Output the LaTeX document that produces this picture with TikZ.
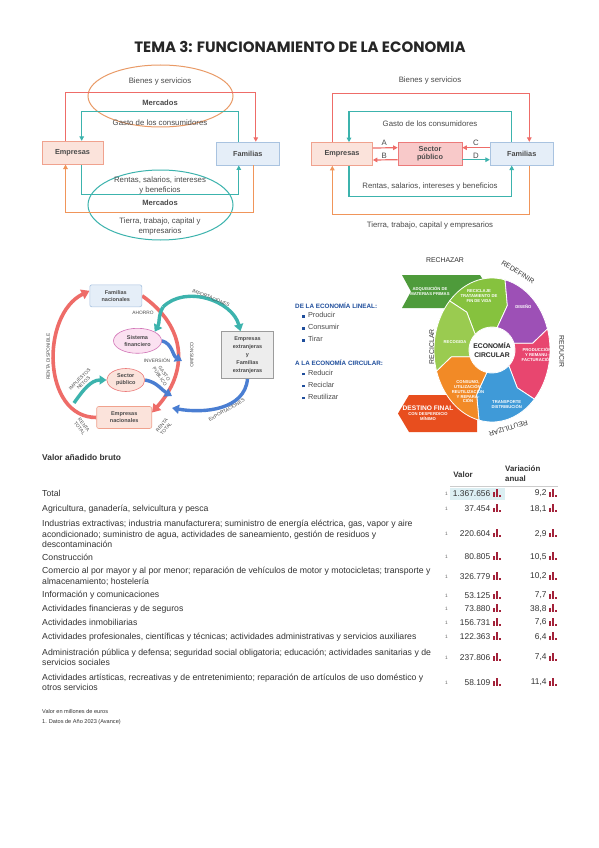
\documentclass[tikz,border=0pt]{standalone}
\usepackage{fontspec}
\setmainfont{Liberation Sans}
\newfontfamily\titlefont{Poppins}
\usetikzlibrary{positioning,arrows.meta,shapes.geometric,calc,backgrounds}

\definecolor{flowred}{HTML}{EE6C68}
\definecolor{flowteal}{HTML}{3CB3AD}
\definecolor{floworange}{HTML}{F0955A}
\definecolor{flowblue}{HTML}{4A7ED2}
\definecolor{mktorange}{HTML}{E99A66}
\definecolor{empfill}{HTML}{FBE3DB}
\definecolor{empline}{HTML}{F0A28E}
\definecolor{famfill}{HTML}{E5EEF8}
\definecolor{famline}{HTML}{A9C3E0}
\definecolor{spfill}{HTML}{F8C9C9}
\definecolor{spline}{HTML}{EC7A7A}
\definecolor{sffill}{HTML}{FBE1F1}
\definecolor{sfline}{HTML}{D173B6}
\definecolor{extfill}{HTML}{EDEDED}
\definecolor{extline}{HTML}{9C9C9C}
\definecolor{txtgray}{HTML}{4A4A4A}
\definecolor{econblue}{HTML}{1F4E9C}
\definecolor{segdark}{HTML}{4E9B3B}
\definecolor{seglime}{HTML}{86C23E}
\definecolor{segleaf}{HTML}{9ACB50}
\definecolor{segpurple}{HTML}{9D50B6}
\definecolor{segpink}{HTML}{E8466F}
\definecolor{segblue}{HTML}{3F9AD8}
\definecolor{segorange}{HTML}{F28A26}
\definecolor{segred}{HTML}{E84E1E}
\definecolor{barred}{HTML}{A3223A}
\definecolor{hlblue}{HTML}{DCEFF3}
\definecolor{tabgray}{HTML}{333333}

% one arrow-shaped piece of the circular economy wheel: colour, tail angle, head angle
\newcommand{\wheelseg}[3]{%
  \filldraw[fill=#1, draw=white, line width=0.8pt, line join=round]
    ({58*cos(#2)},{72*sin(#2)})
    arc[start angle=#2, end angle=#3, x radius=58, y radius=72]
    -- ({41*cos(#3-9)},{48*sin(#3-9)})
    -- ({23*cos(#3)},{23*sin(#3)})
    arc[start angle=#3, end angle=#2, radius=23]
    -- ({41*cos(#2-9)},{48*sin(#2-9)})
    -- cycle;}

\tikzset{
  flowbox/.style={
    draw, line width=0.6pt, minimum height=23pt,
    align=center, font=\fontsize{7.3}{8.3}\selectfont\bfseries, text=txtgray
  },
  empbox/.style={flowbox, fill=empfill, draw=empline, minimum width=61pt},
  fambox/.style={flowbox, fill=famfill, draw=famline, minimum width=63pt},
  spbox/.style={flowbox, fill=spfill, draw=spline, minimum width=64pt},
  mktring/.style={ellipse, minimum width=145pt, inner sep=0pt, line width=1pt},
  flowtext/.style={align=center, font=\fontsize{7.8}{9.8}\selectfont, text=txtgray, inner sep=1pt},
  flowbold/.style={flowtext, font=\fontsize{7.6}{9}\selectfont\bfseries},
  thinflow/.style={line width=1.2pt, -{Triangle[length=4.5pt,width=4.5pt]}},
  smallbox/.style={
    draw, line width=0.6pt, align=center, inner sep=1pt,
    font=\fontsize{5.5}{7}\selectfont\bfseries, text=txtgray
  },
  famnbox/.style={smallbox, rounded corners=2pt, fill=famfill, draw=famline,
    minimum width=52pt, minimum height=22pt},
  empnbox/.style={smallbox, rounded corners=2pt, fill=empfill, draw=empline,
    minimum width=55pt, minimum height=22pt},
  sfring/.style={smallbox, ellipse, fill=sffill, draw=sfline, inner sep=0pt,
    minimum width=48pt, minimum height=25pt},
  spring/.style={smallbox, ellipse, fill=empfill, draw=spline, inner sep=0pt,
    minimum width=38pt, minimum height=23pt},
  extbox/.style={smallbox, fill=extfill, draw=extline, font=\fontsize{5.5}{8}\selectfont\bfseries,
    minimum width=52pt, minimum height=47pt},
  ringflow/.style={line width=3.6pt, draw=flowred, -{Triangle[length=8pt,width=10pt]}},
  tealflow/.style={line width=3.4pt, draw=flowteal, -{Triangle[length=7pt,width=9pt]}},
  blueflow/.style={line width=3.4pt, draw=flowblue, -{Triangle[length=7pt,width=9pt]}},
  tinylbl/.style={font=\fontsize{4.8}{5.4}\selectfont, text=txtgray, align=center, inner sep=0pt},
  econhead/.style={font=\fontsize{6.3}{7}\selectfont\bfseries, text=econblue, inner sep=0pt},
  bulletitem/.style={font=\fontsize{7.3}{8}\selectfont, text=txtgray, inner xsep=0pt,
    inner ysep=2.5pt, text height=5.2pt, text depth=1.4pt},
  segtext/.style={align=center, text=white, font=\fontsize{4.2}{4.9}\selectfont\bfseries, inner sep=0pt},
  wheellbl/.style={font=\fontsize{6.9}{8}\selectfont, text=black!80, inner sep=0pt},
  rowtext/.style={align=left, font=\fontsize{8.7}{10.4}\selectfont, text=tabgray, inner sep=0pt},
  numtext/.style={font=\fontsize{8.4}{9}\selectfont, text=tabgray, inner sep=0pt},
  headtext/.style={align=left, font=\fontsize{7.9}{9.3}\selectfont\bfseries, text=tabgray, inner sep=0pt},
  notemark/.style={font=\fontsize{4.8}{5}\selectfont, text=black!60, inner sep=0pt},
  notetext/.style={font=\fontsize{5.6}{6}\selectfont, text=tabgray, inner sep=0pt},
  baricon/.pic={
    \fill[barred] (0,0) rectangle (2,-4.5);
    \fill[barred] (3.4,0) rectangle (5.4,-8);
    \fill[barred] (6.8,0) rectangle (8.8,-2.2);
  }
}

\begin{document}
\begin{tikzpicture}[x=1pt, y=-1pt]
  \useasboundingbox (0,0) rectangle (599,848);
  \begin{scope}[on background layer]
    \fill[white] (0,0) rectangle (599,848);
  \end{scope}

  \node[font=\titlefont\bfseries\fontsize{15}{16}\selectfont, text=black!85] (title) at (300,47)
    {TEMA 3: FUNCIONAMIENTO DE LA ECONOMIA};

  % flujo circular con mercados
  \node[empbox] (emp1) at (72.5,152.7) {Empresas};
  \node[fambox] (fam1) at (247.8,153.6) {Familias};
  \node[mktring, draw=mktorange, minimum height=62pt] (mk1) at (160.5,96) {};
  \node[mktring, draw=flowteal, minimum height=70pt] (mk2) at (160.5,205) {};
  \node[flowtext] (bs1) at (160,81) {Bienes y servicios};
  \node[flowbold] (mt1) at (160,103) {Mercados};
  \node[flowtext] (gc1) at (160,123) {Gasto de los consumidores};
  \node[flowtext] (rs1) at (160,185.5) {Rentas, salarios, intereses\\y beneficios};
  \node[flowbold] (mt2) at (160,203) {Mercados};
  \node[flowtext] (tt1) at (160,226.7) {Tierra, trabajo, capital y\\empresarios};

  \draw[thinflow, flowred] ([xshift=-7]emp1.north) -- ++(0,-48) -| ([xshift=8]fam1.north);
  \draw[thinflow, flowteal] ([xshift=-9]fam1.north) -- ++(0,-30.6) -| ([xshift=9.2]emp1.north);
  \draw[thinflow, flowteal] ([xshift=9.2]emp1.south) -- ++(0,30) -| ([xshift=-9]fam1.south);
  \draw[thinflow, floworange] ([xshift=6]fam1.south) -- ++(0,46.7) -| ([xshift=-7]emp1.south);

  % flujo circular con sector publico
  \node[empbox] (emp2) at (342,154) {Empresas};
  \node[spbox] (sp2) at (430,153.7) {Sector\\público};
  \node[fambox] (fam2) at (521.7,153.7) {Familias};
  \node[flowtext] (bs2) at (430,80.7) {Bienes y servicios};
  \node[flowtext] (gc2) at (430,123.3) {Gasto de los consumidores};
  \node[flowtext] (rs2) at (430,186.7) {Rentas, salarios, intereses y beneficios};
  \node[flowtext] (tt2) at (430,225) {Tierra, trabajo, capital y empresarios};

  \draw[thinflow, flowred] ([xshift=-9.7]emp2.north) -- ++(0,-49) -| ([xshift=7.6]fam2.north);
  \draw[thinflow, flowteal] ([xshift=-10]fam2.north) -- ++(0,-30.6) -| ([xshift=7]emp2.north);
  \draw[thinflow, flowred] ([yshift=6]emp2.east) -- ([yshift=6]sp2.west);
  \draw[thinflow, flowred] ([yshift=-6]sp2.west) -- ([yshift=-6]emp2.east);
  \draw[thinflow, flowred] ([yshift=6]fam2.west) -- ([yshift=6]sp2.east);
  \draw[thinflow, flowteal] ([yshift=-6]sp2.east) -- ([yshift=-6]fam2.west);
  \draw[thinflow, flowteal] ([xshift=7]emp2.south) -- ++(0,31) -| ([xshift=-10]fam2.south);
  \draw[thinflow, floworange] ([xshift=7.6]fam2.south) -- ++(0,49) -| ([xshift=-9.7]emp2.south);
  \node[flowtext] (la) at (384.3,143.3) {A};
  \node[flowtext] (lb) at (384.3,155.5) {B};
  \node[flowtext] (lc) at (476,143.3) {C};
  \node[flowtext] (ld) at (476,155.5) {D};

  % flujo de la renta
  \node[famnbox] (famn) at (115.8,295.8) {Familias\\nacionales};
  \node[sfring] (sisfin) at (137.5,340.8) {Sistema\\financiero};
  \node[spring] (secpub) at (125.8,380) {Sector\\público};
  \node[empnbox] (empn) at (124.2,417.5) {Empresas\\nacionales};
  \node[extbox] (empext) at (247.5,355) {Empresas\\extranjeras\\y\\Familias\\extranjeras};
  \coordinate (impsrc) at (163,307);
  \coordinate (invend) at (182,361);
  \coordinate (gpend) at (172,396);
  \coordinate (expend) at (172,408);
  \coordinate (taxsrc) at (74,403);

  \begin{scope}[on background layer]
    \draw[ringflow] (empn.west) to[out=180, in=206, looseness=1.1] ([yshift=5]famn.west);
    \draw[ringflow] (famn.east) to[out=-35, in=48, looseness=1.2] ([yshift=5]empn.east);
    \draw[tealflow] (impsrc) to[out=45, in=105] ([xshift=-7]empext.north);
    \draw[tealflow] (impsrc) to[out=-120, in=60] (sisfin.north east);
    \draw[blueflow] (sisfin.east) to[out=-15, in=150] (invend);
    \draw[blueflow] (secpub.east) to[out=-10, in=150] (gpend);
    \draw[blueflow] (empext.south) to[out=-95, in=-10] (expend);
    \draw[tealflow] (taxsrc) to[out=55, in=180] (secpub.west);
  \end{scope}

  \node[tinylbl] (lahorro) at (143,312.7) {AHORRO};
  \node[tinylbl, rotate=-22] (limp) at (211,298) {IMPORTACIONES};
  \node[tinylbl] (linv) at (157,360) {INVERSIÓN};
  \node[tinylbl, rotate=-90] (lcons) at (191.7,355) {CONSUMO};
  \node[tinylbl, rotate=-55] (lgasto) at (162,375) {GASTO\\PÚBLICO};
  \node[tinylbl, rotate=45] (limpn) at (81.7,381) {IMPUESTOS\\NETOS};
  \node[tinylbl, rotate=90] (lrdisp) at (48.3,356.7) {RENTA DISPONIBLE};
  \node[tinylbl, rotate=-52] (lrt1) at (81.7,426.7) {RENTA\\TOTAL};
  \node[tinylbl, rotate=50] (lrt2) at (164,427) {RENTA\\TOTAL};
  \node[tinylbl, rotate=30] (lexp) at (226.7,410) {EXPORTACIONES};

  % de la economia lineal a la circular
  \node[econhead, anchor=west] (lin) at (295,305.7) {DE LA ECONOMÍA LINEAL:};
  \node[bulletitem, anchor=west] (it1) at (302,316) {\textcolor{econblue}{\rule{2.8pt}{2.8pt}}\hspace{3pt}Producir};
  \node[bulletitem, below=0pt of it1.south west, anchor=north west] (it2) {\textcolor{econblue}{\rule{2.8pt}{2.8pt}}\hspace{3pt}Consumir};
  \node[bulletitem, below=0pt of it2.south west, anchor=north west] (it3) {\textcolor{econblue}{\rule{2.8pt}{2.8pt}}\hspace{3pt}Tirar};
  \node[econhead, anchor=west] (circ) at (295,362.3) {A LA ECONOMÍA CIRCULAR:};
  \node[bulletitem, anchor=west] (it4) at (302,373.5) {\textcolor{econblue}{\rule{2.8pt}{2.8pt}}\hspace{3pt}Reducir};
  \node[bulletitem, below=0pt of it4.south west, anchor=north west] (it5) {\textcolor{econblue}{\rule{2.8pt}{2.8pt}}\hspace{3pt}Reciclar};
  \node[bulletitem, below=0pt of it5.south west, anchor=north west] (it6) {\textcolor{econblue}{\rule{2.8pt}{2.8pt}}\hspace{3pt}Reutilizar};

  % rueda de la economia circular
  \fill[segdark] (402,275) -- (480,275) -- (490,291.5) -- (480,308) -- (402,308) -- (411,291.5) -- cycle;
  \fill[segred] (398,413.5) -- (409,395) -- (477,395) -- (477,432) -- (409,432) -- cycle;
  \begin{scope}[shift={(492,350)}, y=1pt]
    \wheelseg{seglime}{137}{77}
    \wheelseg{segpurple}{77}{17}
    \wheelseg{segpink}{17}{-43}
    \wheelseg{segblue}{-43}{-103}
    \wheelseg{segorange}{-103}{-163}
    \wheelseg{segleaf}{197}{137}
  \end{scope}
  \node[segtext] (sadq) at (430,291.5) {ADQUISICIÓN DE\\MATERIAS PRIMAS};
  \node[segtext] (srec) at (479,296) {RECICLAJE\\TRATAMIENTO DE\\FIN DE VIDA};
  \node[segtext] (sdis) at (523.3,306.7) {DISEÑO};
  \node[segtext] (sprod) at (537,355) {PRODUCCIÓN\\Y REMANU-\\FACTURACIÓN};
  \node[segtext] (strans) at (506.7,404.3) {TRANSPORTE\\DISTRIBUCIÓN};
  \node[segtext] (scons) at (468,391.7) {CONSUMO,\\UTILIZACIÓN,\\REUTILIZACIÓN\\Y REPARA-\\CIÓN};
  \node[segtext] (srecog) at (455,341.7) {RECOGIDA};
  \node[segtext] (sdest) at (428,413) {{\fontsize{6.6}{7.5}\selectfont DESTINO FINAL}\\CON DESPERDICIO\\MÍNIMO};
  \node[align=center, font=\fontsize{6.8}{9.5}\selectfont\bfseries, text=black!85, inner sep=0pt] (ecirc) at (492,350) {ECONOMÍA\\CIRCULAR};
  \node[wheellbl] (wrech) at (445,260) {RECHAZAR};
  \node[wheellbl, rotate=-32] (wredef) at (518,272) {REDEFINIR};
  \node[wheellbl, rotate=-90] (wredu) at (561.7,351.7) {REDUCIR};
  \node[wheellbl, rotate=-163] (wreut) at (508.3,428.3) {REUTILIZAR};
  \node[wheellbl, rotate=90] (wrecic) at (431.7,346.7) {RECICLAR};

  % valor anadido bruto
  \node[headtext, font=\fontsize{8.4}{9}\selectfont\bfseries, anchor=west] (vabtitle) at (42,457) {Valor añadido bruto};
  \node[headtext] (hval) at (463,474.5) {Valor};
  \node[headtext, anchor=west] (hvar) at (505,473.5) {Variación\\anual};
  \draw[black!20, line width=0.6pt] (450,486) -- (558,486);
  \fill[hlblue] (450,487.5) rectangle (505,500);
  \foreach \ry/\rlab/\rval/\rvar [count=\ri] in {
    493.5/{Total}/{1.367.656}/{9,2},
    509/{Agricultura, ganadería, selvicultura y pesca}/{37.454}/{18,1},
    534/{Industrias extractivas; industria manufacturera; suministro de energía eléctrica, gas, vapor y aire\\acondicionado; suministro de agua, actividades de saneamiento, gestión de residuos y\\descontaminación}/{220.604}/{2,9},
    557/{Construcción}/{80.805}/{10,5},
    576.5/{Comercio al por mayor y al por menor; reparación de vehículos de motor y motocicletas; transporte y\\almacenamiento; hostelería}/{326.779}/{10,2},
    595.5/{Información y comunicaciones}/{53.125}/{7,7},
    609/{Actividades financieras y de seguros}/{73.880}/{38,8},
    622.5/{Actividades inmobiliarias}/{156.731}/{7,6},
    637/{Actividades profesionales, científicas y técnicas; actividades administrativas y servicios auxiliares}/{122.363}/{6,4},
    657.5/{Administración pública y defensa; seguridad social obligatoria; educación; actividades sanitarias y de\\servicios sociales}/{237.806}/{7,4},
    682.5/{Actividades artísticas, recreativas y de entretenimiento; reparación de artículos de uso doméstico y\\otros servicios}/{58.109}/{11,4}
  }{
    \node[rowtext, anchor=west] (row\ri) at (42,\ry) {\rlab};
    \node[notemark] (mark\ri) at (446.5,\ry) {1};
    \node[numtext, anchor=east] (val\ri) at (490.5,\ry) {\rval};
    \pic at (492.5,\ry+3.3) {baricon};
    \node[numtext, anchor=east] (var\ri) at (546.7,\ry) {\rvar};
    \pic at (548.5,\ry+3.3) {baricon};
  }
  \node[notetext, anchor=west] (note1) at (42,711.5) {Valor en millones de euros};
  \node[notetext, anchor=west] (note2) at (42,722) {1. Datos de Año 2023 (Avance)};
\end{tikzpicture}
\end{document}
